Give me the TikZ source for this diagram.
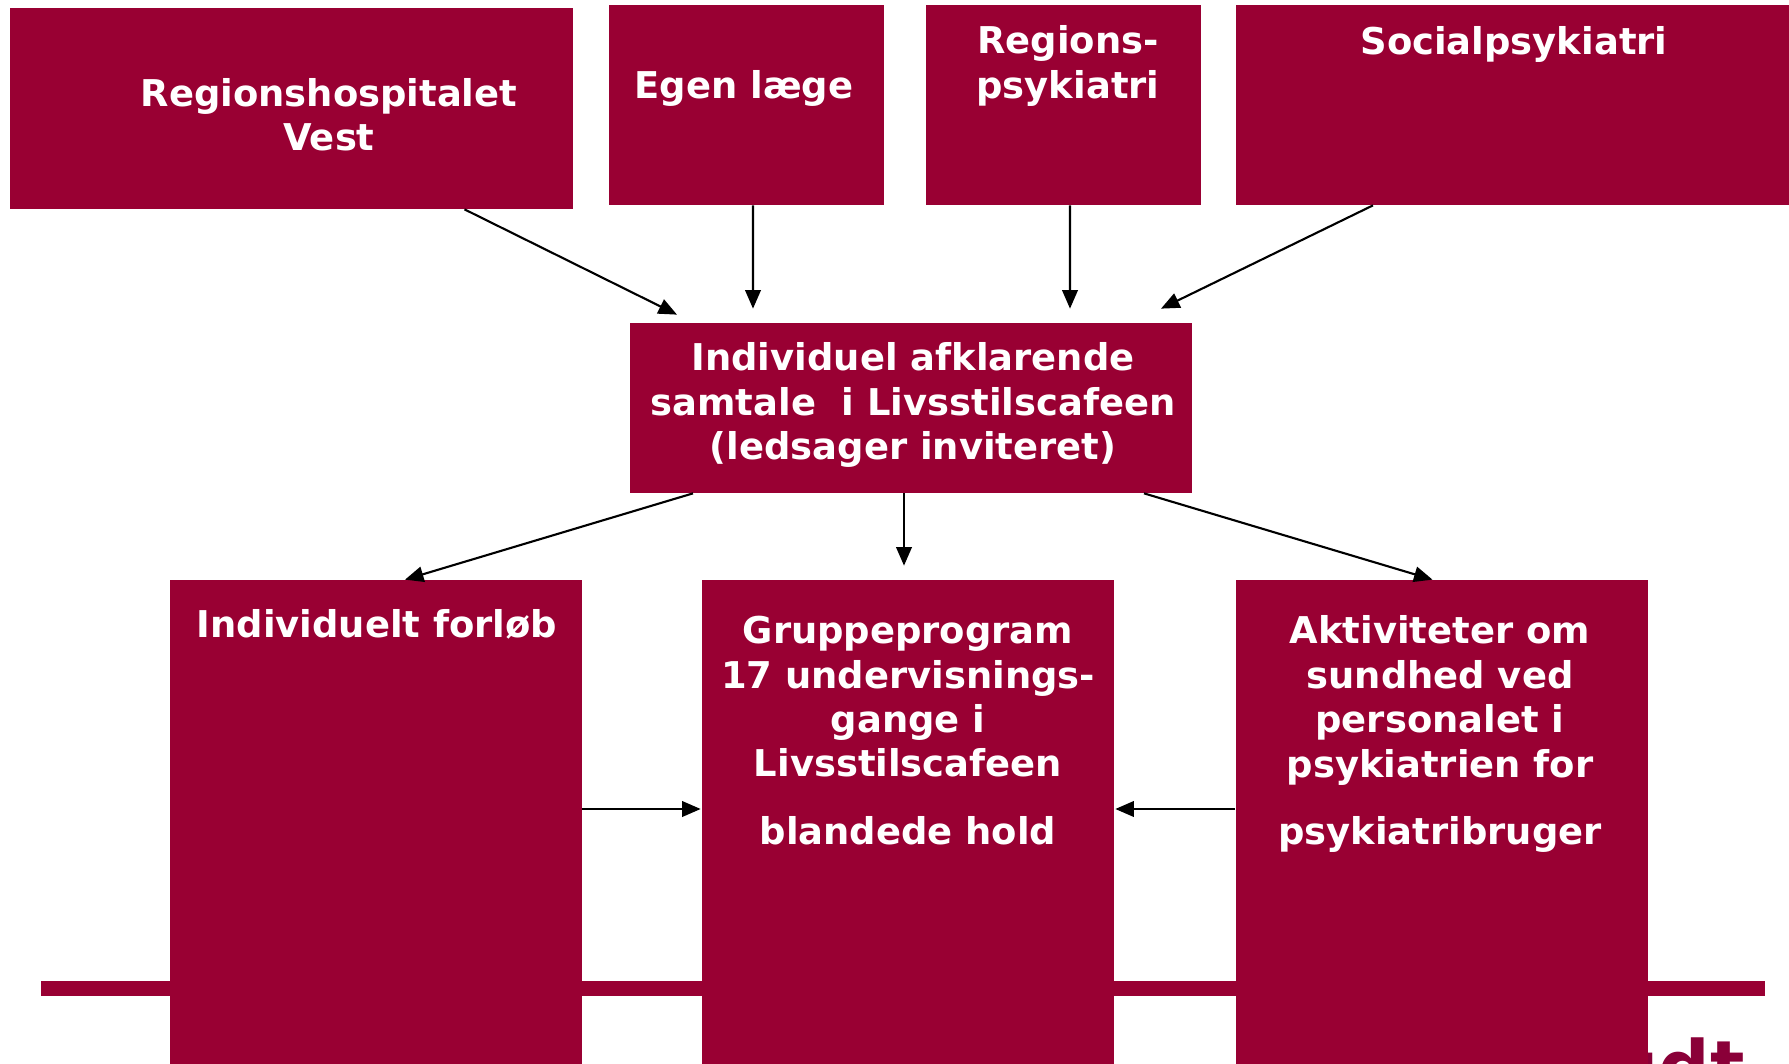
\documentclass[tikz,border=0pt]{standalone}
\usepackage{fontspec}
\setmainfont{DejaVu Sans}
\usetikzlibrary{calc,arrows.meta}
\definecolor{bordeaux}{RGB}{153,0,51}
\definecolor{logored}{RGB}{138,0,56}

\def\px{0.02cm}

\begin{document}
\begin{tikzpicture}[x=\px, y=-\px]
        \tikzstyle{box}=[rectangle, fill=bordeaux, inner sep=0pt]
        \tikzstyle{top box}=[box, minimum height=200*\px]
        \tikzstyle{low box}=[box, minimum width=412*\px, minimum height=500*\px]
        \tikzstyle{lbl}=[text=white, font=\bfseries\fontsize{21}{25.3}\selectfont, align=center, inner sep=0pt]
        \tikzstyle{link}=[->, >={Triangle[length=0.37cm,width=0.31cm]}, line width=1.2pt, black]

        \clip (0,0) rectangle (1789,1064);

        % Bar and logo behind the boxes
        \fill[bordeaux] (41,981) rectangle (1765,996);
        \node[text=logored, font=\bfseries\fontsize{41}{41}\selectfont, anchor=base east, inner sep=0pt] (logo) at (1745,1092) {udt};

        % Draw the referring units
        \node[top box, minimum width=563*\px, minimum height=201*\px] (RH) at (291.5,108.5) {};
        \node[top box, minimum width=275*\px] (EL) at (746.5,105) {};
        \node[top box, minimum width=275*\px] (RP) at (1063.5,105) {};
        \node[top box, minimum width=553*\px] (SP) at (1512.5,105) {};

        % Draw the talk
        \node[box, minimum width=562*\px, minimum height=170*\px] (IS) at (911,408) {};

        % Draw the offers
        \node[low box] (IF) at (376,830) {};
        \node[low box] (GP) at (908,830) {};
        \node[low box] (AK) at (1441.5,830) {};

        % Texts
        \node[lbl] (RH-t) at (329,115) {Regionshospitalet\\Vest};
        \node[lbl] (EL-t) at (744,88.5) {Egen læge};
        \node[lbl] (RP-t) at (1068,66) {Regions-\\psykiatri};
        \node[lbl] (SP-t) at (1514,44.5) {Socialpsykiatri};
        \node[lbl] (IS-t) at (913,405) {Individuel afklarende\\samtale\ \ i Livsstilscafeen\\(ledsager inviteret)};
        \node[lbl] (IF-t) at (377,624) {Individuelt forløb};
        \node[lbl] (GP-t) at (908,730.5) {Gruppeprogram\\17 undervisnings-\\gange i\\Livsstilscafeen\\[13pt]blandede hold};
        \node[lbl] (AK-t) at (1440,734) {Aktiviteter om\\sundhed ved\\personalet i\\psykiatrien for\\[13pt]psykiatribruger};

        % Connect the referring units with the talk
        \draw[link] ($(RH.south)+(173,0)$) -- ($(IS.north)+(-234,-8)$);
        \draw[link] ($(EL.south)+(6.5,0)$) -- ($(IS.north)+(-158,-14)$);
        \draw[link] ($(RP.south)+(6.5,0)$) -- ($(IS.north)+(159,-14)$);
        \draw[link] ($(SP.south)+(-139.5,0)$) -- ($(IS.north)+(250,-14)$);

        % Connect the talk with the offers
        \draw[link] ($(IS.south)+(-218,0)$) -- ($(IF.north)+(29,0)$);
        \draw[link] ($(IS.south)+(-7,0)$) -- ($(GP.north)+(-4,-14)$);
        \draw[link] ($(IS.south)+(233,0)$) -- ($(AK.north)+(-9,0)$);

        % Side offers into the group programme
        \draw[link] ($(IF.east)+(0,-21)$) -- ($(GP.west)+(-1,-21)$);
        \draw[link] ($(AK.west)+(0,-21)$) -- ($(GP.east)+(1,-21)$);
    \end{tikzpicture}
\end{document}
